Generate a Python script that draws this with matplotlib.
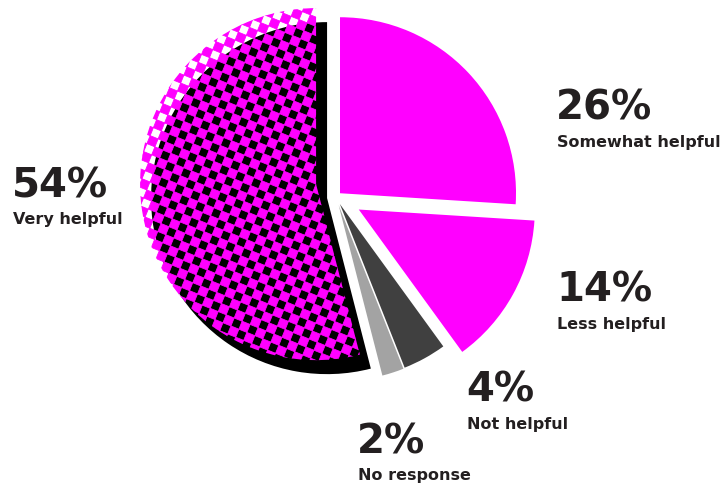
import numpy as np
from matplotlib import pyplot as plt
from matplotlib.patches import Wedge
from matplotlib.collections import PolyCollection
from matplotlib.transforms import Affine2D

# survey answers, clockwise from 12 o'clock
labels = ["Somewhat helpful", "Less helpful", "Not helpful", "No response", "Very helpful"]
shares = [26, 14, 4, 2, 54]

colors = ["#ff00ff", "#ff00ff", "#404040", "#a3a3a3", "#000000"]
# pie() moves slices by these amounts in data units (pixels here)
explode = [5.5, 26, 8, 8.5, 9]

# label anchors (left edge, baseline of the percentage) in pixel space
label_pos = [(556, 120), (556, 302), (466, 402), (357, 453), (12, 197)]

TEXT = "#231f20"
W, H = 725, 488

fig = plt.figure(figsize=(W / 100, H / 100), dpi=100)
ax = fig.add_axes([0, 0, 1, 1])

# y axis runs downwards, so counterclock=True draws the slices clockwise
wedges, _ = ax.pie(shares, colors=colors, explode=explode, startangle=-90,
                   counterclock=True, center=(336, 197), radius=176,
                   frame=True, wedgeprops=dict(linewidth=0))

ax.set_xlim(0, W)
ax.set_ylim(H, 0)
ax.set_aspect("equal")
ax.axis("off")

# checkered copy of the big slice, nudged up-left over its black shadow
big = wedges[4]
cx, cy = big.center
shade = Wedge((cx - 11, cy - 14), big.r, big.theta1, big.theta2,
              facecolor="none", edgecolor="none")
ax.add_patch(shade)

cell = 8.6
rot = Affine2D().rotate_deg(22).translate(cx - 11, cy - 14)
squares = []
for i in range(-30, 31):
    for j in range(-30, 31):
        if (i + j) % 2:
            continue
        sq = np.array([[i, j], [i + 1, j], [i + 1, j + 1], [i, j + 1]]) * cell
        squares.append(rot.transform(sq))
checker = PolyCollection(squares, facecolors="#ff00ff", edgecolors="#ff00ff",
                         linewidths=0.6, joinstyle="round")
ax.add_collection(checker)
checker.set_clip_path(shade)

for name, pct, (x, y) in zip(labels, shares, label_pos):
    ax.text(x, y, f"{pct}%", fontsize=29, fontweight="bold", color=TEXT,
            va="baseline", ha="left")
    ax.text(x + 1, y + 27, name, fontsize=11.5, fontweight="bold", color=TEXT,
            va="baseline", ha="left")

fig.savefig("out.png", dpi=100)
